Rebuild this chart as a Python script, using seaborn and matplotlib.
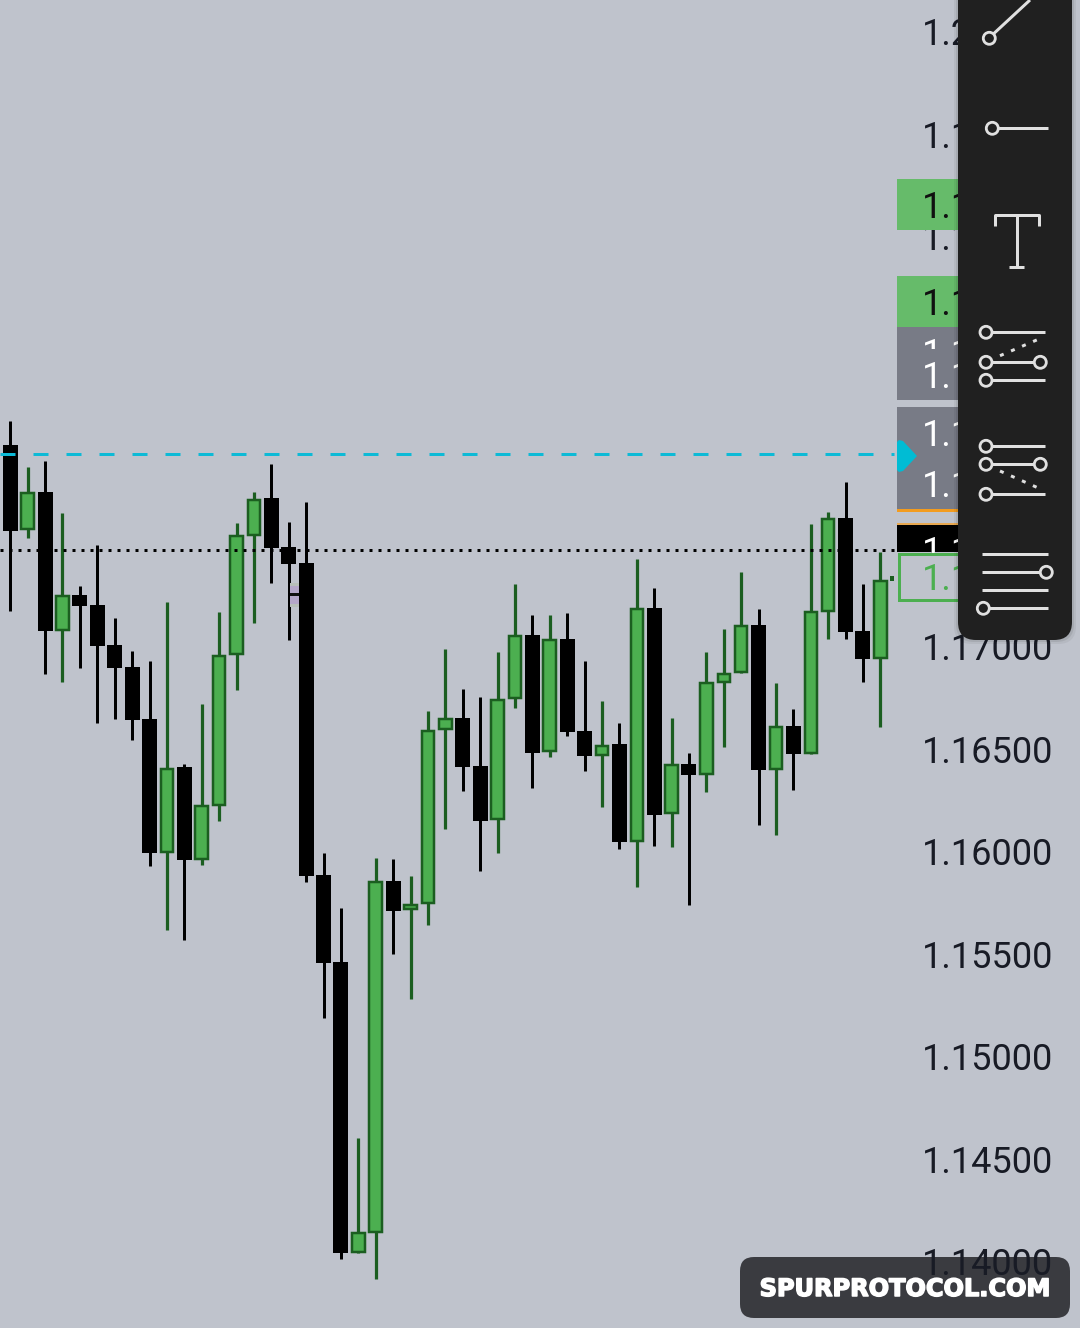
import matplotlib

matplotlib.use("Agg")

import numpy as np
import pandas as pd
import seaborn as sns
import matplotlib.pyplot as plt
import matplotlib.patheffects as pe
from matplotlib.patches import Circle, FancyBboxPatch, Polygon, Rectangle
from matplotlib.transforms import ScaledTranslation


highs = [1.18107, 1.17883, 1.17912, 1.17659, 1.17302, 1.17502, 1.17146, 1.16985, 1.16937, 1.17224,
         1.16434, 1.16727, 1.17176, 1.17610, 1.17761, 1.17898, 1.17615, 1.17712, 1.16000, 1.15732,
         1.14610, 1.15976, 1.15971, 1.15888, 1.16693, 1.16995, 1.16800, 1.16761, 1.16980, 1.17312,
         1.17161, 1.17161, 1.17171, 1.16937, 1.16741, 1.16634, 1.17434, 1.17293, 1.16659, 1.16488,
         1.16980, 1.17093, 1.17371, 1.17190, 1.16829, 1.16702, 1.17605, 1.17663, 1.17810, 1.17312,
         1.17468]
body_tops = [1.17990, 1.17761, 1.17761, 1.17259, 1.17259, 1.17210, 1.17015, 1.16907, 1.16654, 1.16417,
             1.16420, 1.16234, 1.16966, 1.17551, 1.17729, 1.17732, 1.17493, 1.17415, 1.15893, 1.15468,
             1.14151, 1.15863, 1.15863, 1.15751, 1.16600, 1.16659, 1.16659, 1.16424, 1.16751, 1.17063,
             1.17063, 1.17044, 1.17044, 1.16595, 1.16527, 1.16532, 1.17195, 1.17195, 1.16434, 1.16434,
             1.16834, 1.16878, 1.17112, 1.17112, 1.16620, 1.16620, 1.17180, 1.17634, 1.17634, 1.17083,
             1.17332]
body_bottoms = [1.17573, 1.17573, 1.17083, 1.17083, 1.17205, 1.17010, 1.16902, 1.16649, 1.16000, 1.16000,
                1.15966, 1.15966, 1.16229, 1.16963, 1.17546, 1.17488, 1.17412, 1.15890, 1.15463, 1.14049,
                1.14049, 1.14146, 1.15717, 1.15722, 1.15751, 1.16600, 1.16420, 1.16156, 1.16161, 1.16751,
                1.16488, 1.16493, 1.16590, 1.16473, 1.16473, 1.16054, 1.16054, 1.16185, 1.16190, 1.16380,
                1.16380, 1.16829, 1.16878, 1.16405, 1.16405, 1.16483, 1.16483, 1.17176, 1.17078, 1.16946,
                1.16946]
lows = [1.17180, 1.17537, 1.16873, 1.16834, 1.16902, 1.16634, 1.16654, 1.16551, 1.15937, 1.15624,
        1.15576, 1.15941, 1.16154, 1.16795, 1.17120, 1.17315, 1.17039, 1.15859, 1.15195, 1.14020,
        1.14049, 1.13922, 1.15507, 1.15288, 1.15649, 1.16117, 1.16302, 1.15912, 1.16000, 1.16707,
        1.16317, 1.16468, 1.16571, 1.16400, 1.16224, 1.16020, 1.15834, 1.16034, 1.16029, 1.15746,
        1.16298, 1.16517, 1.16878, 1.16137, 1.16088, 1.16307, 1.16483, 1.17044, 1.17044, 1.16834,
        1.16615]
direction = ["d", "u", "d", "u", "d", "d", "d", "d", "d", "u",
             "d", "u", "u", "u", "u", "d", "d", "d", "d", "d",
             "u", "u", "d", "u", "u", "u", "d", "d", "u", "u",
             "d", "u", "d", "d", "u", "d", "u", "d", "u", "d",
             "u", "u", "u", "d", "u", "d", "u", "u", "d", "d",
             "u"]

tick_values = [1.14, 1.145, 1.15, 1.155, 1.16, 1.165, 1.17, 1.175, 1.18, 1.185, 1.19, 1.195, 1.20]
tick_labels = ["1.14000", "1.14500", "1.15000", "1.15500", "1.16000", "1.16500", "1.17000",
               "1.17500", "1.18000", "1.18500", "1.19000", "1.19500", "1.20000"]

dashed_price = 1.17946
dotted_price = 1.17476

BG = "#BFC3CC"
UP_FILL = "#4CAF50"
UP_EDGE = "#1B5E20"
PANEL = "#202020"
ICON = "#E0E0E0"
TAG_GRAY = "#787B86"
TAG_GREEN = "#66BB6A"
PX = 0.72  # one pixel in points at dpi 100

df = pd.DataFrame(
    {
        "idx": np.arange(len(highs)),
        "high": highs,
        "top": body_tops,
        "bottom": body_bottoms,
        "low": lows,
        "dir": direction,
    }
)
df["height"] = df["top"] - df["bottom"]
up = df[df["dir"] == "u"]
down = df[df["dir"] == "d"]

sns.set_theme(style="white", rc={"lines.scale_dashes": False})
plt.rcParams["font.family"] = ["Roboto", "DejaVu Sans"]

fig = plt.figure(figsize=(10.8, 13.28), dpi=100, facecolor=BG)
ax = fig.add_axes([0, 0, 1, 1], facecolor=BG)

# wicks
ax.vlines(down["idx"], down["low"], down["high"], colors="black", linewidth=3 * PX,
          capstyle="butt", zorder=2)
ax.vlines(up["idx"], up["low"], up["high"], colors=UP_EDGE, linewidth=3.2 * PX,
          capstyle="butt", zorder=2)

# bodies
sns.barplot(data=down, x="idx", y="height", bottom=down["bottom"].to_numpy(), native_scale=True,
            width=0.862, color="black", saturation=1, errorbar=None, linewidth=0, ax=ax, zorder=3)
inset = 0.00006
sns.barplot(data=up.assign(height=up["height"] - 2 * inset), x="idx", y="height",
            bottom=up["bottom"].to_numpy() + inset, native_scale=True, width=0.718, color=UP_FILL,
            saturation=1, errorbar=None, edgecolor=UP_EDGE, linewidth=2.5 * PX, ax=ax, zorder=3)

# price lines
ax.plot([-0.61, 50.78], [dashed_price, dashed_price], color="#0DBAD6", linewidth=3 * PX,
        linestyle=(0, (15 * PX, 18 * PX)), dash_capstyle="butt", zorder=4)
ax.plot([-0.61, 50.95], [dotted_price, dotted_price], color="black", linewidth=3 * PX,
        linestyle=(0, (3 * PX, 6 * PX)), dash_capstyle="butt", zorder=4)

ax.set_xlim(-0.6034 + 0.012, 61.46 + 0.012)
ax.set_ylim(1.13683, 1.20161)
ax.set_xlabel("")
ax.set_ylabel("")
ax.set_xticks([])
ax.set_yticks(tick_values, labels=tick_labels)
ax.yaxis.tick_right()
ax.tick_params(axis="y", length=0, pad=-113.8, labelsize=26, labelcolor="#181B25")
for lbl in ax.get_yticklabels():
    lbl.set_va("center")
    lbl.set_transform(lbl.get_transform() + ScaledTranslation(0, -2 / 100, fig.dpi_scale_trans))
ax.set_axisbelow(False)
sns.despine(ax=ax, left=True, bottom=True)

# app chrome on top, in pixel units
ui = fig.add_axes([0, 0, 1, 1])
ui.set_xlim(0, 1080)
ui.set_ylim(1328, 0)
ui.axis("off")


def tag(y0, y1, color, z=3):
    ui.add_patch(Rectangle((897, y0), 61, y1 - y0, facecolor=color, edgecolor="none", zorder=z))


def tag_text(y, color, z=3):
    ui.text(922, y, "1.1", fontsize=26, color=color, va="center", ha="left", zorder=z)


ui.add_patch(Rectangle((290, 583), 9, 24, facecolor="#B7BEB9", edgecolor="none", zorder=1))
ui.add_patch(Rectangle((290, 586), 9, 17.5, facecolor="#B4A6C9", edgecolor="none", zorder=1))
ui.add_patch(Rectangle((290, 593), 9, 2.5, facecolor="#101010", edgecolor="none", zorder=1))
ui.add_patch(Rectangle((890, 576), 4, 5, facecolor=UP_EDGE, edgecolor="none", zorder=1))

tag(179, 230, TAG_GREEN)
tag_text(208, "#101010")
tag(276, 327, TAG_GREEN)
tag_text(305, "#101010")
tag(327, 352, TAG_GRAY)
tag_text(355, "white")
tag(349, 400, TAG_GRAY, z=4)
tag_text(378, "white", z=4)
tag(407, 509, TAG_GRAY)
tag_text(436, "white")
tag_text(487, "white")
tag(509, 512, "#F39C1F")
tag(523, 525, "#E8A850")
tag(525, 552, "black")
tag_text(553, "white")
ui.add_patch(Rectangle((898.5, 553.5), 60, 46.5, facecolor=BG, edgecolor=UP_FILL, linewidth=3 * PX, zorder=5))
tag_text(580, UP_FILL, z=5)
ui.add_patch(Polygon([(899, 440), (903, 441), (917, 456), (903, 471), (899, 472), (897, 470), (897, 442)],
                     closed=True, facecolor="#00BCD4", edgecolor="none", zorder=6))

# tool panel
for grow, alpha in [(4, 0.05), (2, 0.08)]:
    ui.add_patch(FancyBboxPatch((958 - grow, -40), 114 + 2 * grow, 680 + grow,
                                boxstyle="round,pad=0,rounding_size=18", facecolor="black",
                                edgecolor="none", alpha=alpha, zorder=7))
ui.add_patch(FancyBboxPatch((958, -40), 114, 680, boxstyle="round,pad=0,rounding_size=18",
                            facecolor=PANEL, edgecolor="none", zorder=8))


def stroke(xs, ys, dotted=False):
    style = (0, (4 * PX, 8 * PX)) if dotted else "-"
    ui.plot(xs, ys, color=ICON, linewidth=3 * PX, linestyle=style, solid_capstyle="butt",
            dash_capstyle="butt", solid_joinstyle="round", zorder=9)


def knob(x, y):
    ui.add_patch(Circle((x, y), 6, facecolor=PANEL, edgecolor=ICON, linewidth=2.8 * PX, zorder=10))


stroke([989, 1030], [38, 0])
knob(989.3, 38.3)
stroke([992, 1048], [128.3, 128.3])
knob(992.3, 128.3)

stroke([995, 995, 1039, 1039], [226, 215, 215, 226])
stroke([1016.7, 1016.7], [215, 266.7])
stroke([1009, 1024], [266.7, 266.7])

stroke([986, 1045], [332.3, 332.3])
stroke([986, 1040], [362.3, 362.3])
stroke([986, 1045], [380.3, 380.3])
stroke([1000, 1039], [355.7, 339], dotted=True)
knob(986, 332.3)
knob(986, 362.3)
knob(1040.3, 362.3)
knob(986, 380.3)

stroke([986, 1045], [446.3, 446.3])
stroke([986, 1040], [464.3, 464.3])
stroke([986, 1045], [494.3, 494.3])
stroke([1000, 1039], [471, 488.3], dotted=True)
knob(986, 446.3)
knob(986, 464.3)
knob(1040.3, 464.3)
knob(986, 494.3)

stroke([982, 1048], [554.3, 554.3])
stroke([982, 1046], [572.3, 572.3])
stroke([982, 1048], [590.3, 590.3])
stroke([983, 1048], [608.3, 608.3])
knob(1046.3, 572.3)
knob(983.3, 608.3)

# watermark, the price label shows through it so it sits under the tick labels
ax.add_patch(FancyBboxPatch((740, 1257), 330, 61, boxstyle="round,pad=0,rounding_size=14",
                            transform=ui.transData, facecolor="#3A3B40", edgecolor="none", zorder=2.4))
ui.text(905.5, 1289, "SPURPROTOCOL.COM", fontsize=17.3, fontweight="bold", color="white",
        family=["DejaVu Sans"], ha="center", va="center", zorder=12,
        path_effects=[pe.withStroke(linewidth=1.1, foreground="white")])

fig.savefig("out.png", dpi=100, facecolor=BG)
